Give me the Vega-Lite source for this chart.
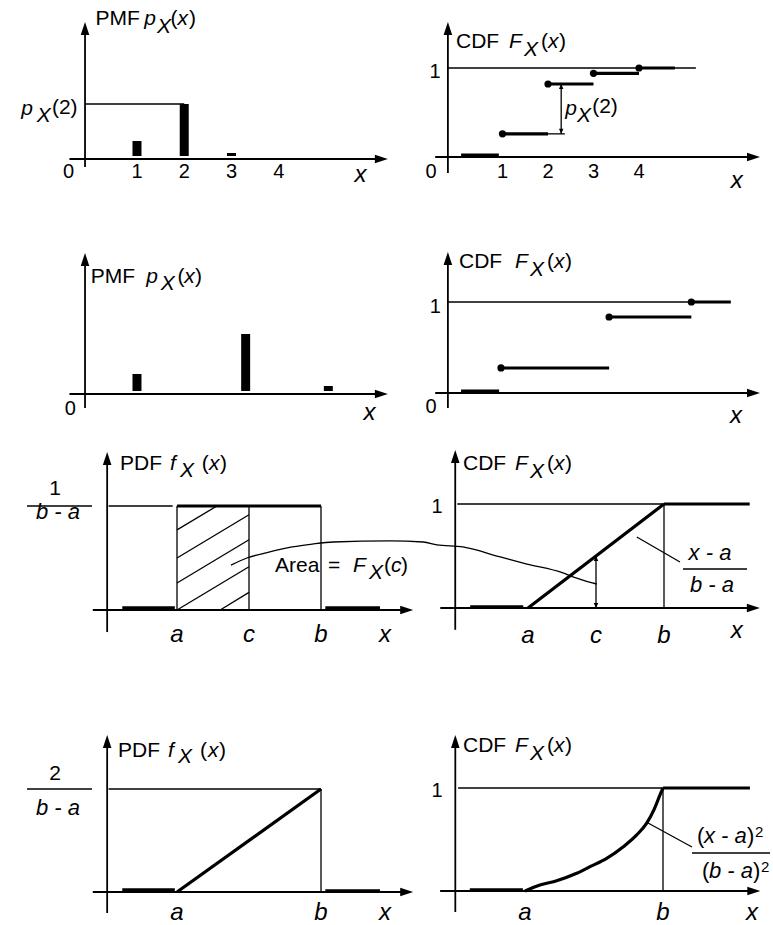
{
  "$schema": "https://vega.github.io/schema/vega-lite/v6.json",
  "padding": 0,
  "background": "white",
  "columns": 2,
  "spacing": 0,
  "align": "each",
  "bounds": "flush",
  "config": {"view": {"stroke": null}, "font": "Liberation Sans", "text": {"color": "black", "font": "Liberation Sans", "baseline": "alphabetic"}},
  "datasets": {
    "pmf1": [
      {"k": "axis", "x": -0.1, "y": -0.08, "x2": -0.1, "y2": 1.3},
      {"k": "axis", "x": -0.43, "y": 0, "x2": 6.2, "y2": 0},
      {"k": "up", "x": -0.1, "y": 1.37},
      {"k": "right", "x": 6.31, "y": 0},
      {"k": "bar", "x": 1, "y": 0.18},
      {"k": "bar", "x": 2, "y": 0.55},
      {"k": "bar", "x": 3, "y": 0.06},
      {"k": "guide", "x": -0.1, "y": 0.55, "x2": 2, "y2": 0.55},
      {"k": "text", "role": "tick", "t": "0", "x": -0.45, "y": -0.19},
      {"k": "text", "role": "tick", "t": "1", "x": 1, "y": -0.19},
      {"k": "text", "role": "tick", "t": "2", "x": 2, "y": -0.19},
      {"k": "text", "role": "tick", "t": "3", "x": 3, "y": -0.19},
      {"k": "text", "role": "tick", "t": "4", "x": 4, "y": -0.19},
      {"k": "text", "role": "var", "t": "x", "x": 5.73, "y": -0.23},
      {"k": "text", "role": "sym", "t": "p", "x": -1.45, "y": 0.44},
      {"k": "text", "role": "sym", "t": "X", "x": -1.12, "y": 0.37},
      {"k": "text", "role": "word", "t": "(2)", "x": -0.8, "y": 0.45},
      {"k": "text", "role": "word", "t": "PMF", "x": 0.12, "y": 1.34},
      {"k": "text", "role": "sym", "t": "p", "x": 1.155, "y": 1.34},
      {"k": "text", "role": "sym", "t": "X", "x": 1.423, "y": 1.26},
      {"k": "text", "role": "word", "t": "(", "x": 1.71, "y": 1.34},
      {"k": "text", "role": "sym", "t": "x", "x": 1.855, "y": 1.34},
      {"k": "text", "role": "word", "t": ")", "x": 2.1, "y": 1.34}
    ],
    "cdf1": [
      {"k": "axis", "x": -0.2, "y": -0.18, "x2": -0.2, "y2": 1.45},
      {"k": "axis", "x": -0.48, "y": 0, "x2": 6.55, "y2": 0},
      {"k": "up", "x": -0.2, "y": 1.517},
      {"k": "right", "x": 6.66, "y": 0},
      {"k": "guide", "x": -0.2, "y": 1, "x2": 5.25, "y2": 1},
      {"k": "graph", "x": 0.09, "y": 0.02, "x2": 0.92, "y2": 0.02},
      {"k": "graph", "x": 1, "y": 0.26, "x2": 2, "y2": 0.26},
      {"k": "graph", "x": 2, "y": 0.82, "x2": 3, "y2": 0.82},
      {"k": "graph", "x": 3, "y": 0.94, "x2": 4, "y2": 0.94},
      {"k": "graph", "x": 4, "y": 1, "x2": 4.79, "y2": 1},
      {"k": "dot", "x": 1, "y": 0.26},
      {"k": "dot", "x": 2, "y": 0.82},
      {"k": "dot", "x": 3, "y": 0.94},
      {"k": "dot", "x": 4, "y": 1},
      {"k": "guide", "x": 2, "y": 0.26, "x2": 2.37, "y2": 0.26},
      {"k": "guide", "x": 2.29, "y": 0.26, "x2": 2.29, "y2": 0.82},
      {"k": "hup", "x": 2.29, "y": 0.82},
      {"k": "hdown", "x": 2.29, "y": 0.26},
      {"k": "text", "role": "tick", "t": "0", "x": -0.57, "y": -0.236},
      {"k": "text", "role": "tick", "t": "1", "x": 1, "y": -0.236},
      {"k": "text", "role": "tick", "t": "2", "x": 2, "y": -0.236},
      {"k": "text", "role": "tick", "t": "3", "x": 3, "y": -0.236},
      {"k": "text", "role": "tick", "t": "4", "x": 4, "y": -0.236},
      {"k": "text", "role": "var", "t": "x", "x": 6.15, "y": -0.348},
      {"k": "text", "role": "tick", "t": "1", "x": -0.48, "y": 0.888},
      {"k": "text", "role": "sym", "t": "p", "x": 2.38, "y": 0.472},
      {"k": "text", "role": "sym", "t": "X", "x": 2.64, "y": 0.393},
      {"k": "text", "role": "word", "t": "(2)", "x": 2.97, "y": 0.494},
      {"k": "text", "role": "word", "t": "CDF", "x": -0.022, "y": 1.225},
      {"k": "text", "role": "sym", "t": "F", "x": 1.143, "y": 1.225},
      {"k": "text", "role": "sym", "t": "X", "x": 1.473, "y": 1.135},
      {"k": "text", "role": "word", "t": "(", "x": 1.846, "y": 1.225},
      {"k": "text", "role": "sym", "t": "x", "x": 2.0, "y": 1.225},
      {"k": "text", "role": "word", "t": ")", "x": 2.242, "y": 1.225}
    ],
    "pmf2": [
      {"k": "axis", "x": -0.1, "y": -0.14, "x2": -0.1, "y2": 1.35},
      {"k": "axis", "x": -0.43, "y": 0, "x2": 6.2, "y2": 0},
      {"k": "up", "x": -0.1, "y": 1.41},
      {"k": "right", "x": 6.31, "y": 0},
      {"k": "bar", "x": 1, "y": 0.2},
      {"k": "bar", "x": 3.3, "y": 0.6},
      {"k": "bar", "x": 5.05, "y": 0.08},
      {"k": "text", "role": "tick", "t": "0", "x": -0.41, "y": -0.21},
      {"k": "text", "role": "var", "t": "x", "x": 5.92, "y": -0.26},
      {"k": "text", "role": "word", "t": "PMF", "x": 0.02, "y": 1.11},
      {"k": "text", "role": "sym", "t": "p", "x": 1.196, "y": 1.11},
      {"k": "text", "role": "sym", "t": "X", "x": 1.505, "y": 1.04},
      {"k": "text", "role": "word", "t": "(", "x": 1.856, "y": 1.11},
      {"k": "text", "role": "sym", "t": "x", "x": 2.0, "y": 1.11},
      {"k": "text", "role": "word", "t": ")", "x": 2.227, "y": 1.11}
    ],
    "cdf2": [
      {"k": "axis", "x": -0.13, "y": -0.165, "x2": -0.13, "y2": 1.48},
      {"k": "axis", "x": -0.4, "y": 0, "x2": 6.4, "y2": 0},
      {"k": "up", "x": -0.13, "y": 1.549},
      {"k": "right", "x": 6.51, "y": 0},
      {"k": "guide", "x": -0.13, "y": 1, "x2": 5.05, "y2": 1},
      {"k": "graph", "x": 0.15, "y": 0.022, "x2": 0.96, "y2": 0.022},
      {"k": "graph", "x": 1, "y": 0.275, "x2": 3.3, "y2": 0.275},
      {"k": "graph", "x": 3.3, "y": 0.835, "x2": 5.05, "y2": 0.835},
      {"k": "graph", "x": 5.05, "y": 1, "x2": 5.89, "y2": 1},
      {"k": "dot", "x": 1, "y": 0.275},
      {"k": "dot", "x": 3.3, "y": 0.835},
      {"k": "dot", "x": 5.05, "y": 1},
      {"k": "text", "role": "tick", "t": "0", "x": -0.49, "y": -0.22},
      {"k": "text", "role": "tick", "t": "1", "x": -0.4, "y": 0.879},
      {"k": "text", "role": "var", "t": "x", "x": 6.0, "y": -0.33},
      {"k": "text", "role": "word", "t": "CDF", "x": 0.106, "y": 1.374},
      {"k": "text", "role": "sym", "t": "F", "x": 1.298, "y": 1.374},
      {"k": "text", "role": "sym", "t": "X", "x": 1.617, "y": 1.286},
      {"k": "text", "role": "word", "t": "(", "x": 1.979, "y": 1.374},
      {"k": "text", "role": "sym", "t": "x", "x": 2.128, "y": 1.374},
      {"k": "text", "role": "word", "t": ")", "x": 2.362, "y": 1.374}
    ],
    "pdf1": [
      {"k": "axis", "x": 0.03, "y": -0.106, "x2": 0.03, "y2": 0.72},
      {"k": "axis", "x": -0.17, "y": 0, "x2": 4.2, "y2": 0},
      {"k": "up", "x": 0.03, "y": 0.76},
      {"k": "right", "x": 4.28, "y": 0},
      {"k": "guide", "x": 0.05, "y": 0.5, "x2": 0.94, "y2": 0.5},
      {"k": "graph", "x": 1, "y": 0.5, "x2": 3, "y2": 0.5},
      {"k": "graph", "x": 0.24, "y": 0.01, "x2": 0.97, "y2": 0.01},
      {"k": "graph", "x": 3.06, "y": 0.01, "x2": 3.82, "y2": 0.01},
      {"k": "guide", "x": 1, "y": 0, "x2": 1, "y2": 0.5},
      {"k": "guide", "x": 2, "y": 0, "x2": 2, "y2": 0.5},
      {"k": "guide", "x": 3, "y": 0, "x2": 3, "y2": 0.5},
      {"k": "guide", "x": 1, "y": 0.385, "x2": 1.554, "y2": 0.5},
      {"k": "guide", "x": 1, "y": 0.25, "x2": 2, "y2": 0.458},
      {"k": "guide", "x": 1, "y": 0.13, "x2": 2, "y2": 0.338},
      {"k": "guide", "x": 1, "y": 0, "x2": 2, "y2": 0.208},
      {"k": "guide", "x": 1.6, "y": 0, "x2": 2, "y2": 0.085},
      {"k": "guide", "x": -1.083, "y": 0.5, "x2": -0.181, "y2": 0.5},
      {"k": "leader", "o": 0, "x": 1.75, "y": 0.216},
      {"k": "leader", "o": 1, "x": 1.97, "y": 0.25},
      {"k": "leader", "o": 2, "x": 2.25, "y": 0.276},
      {"k": "leader", "o": 3, "x": 2.6, "y": 0.303},
      {"k": "leader", "o": 4, "x": 2.88, "y": 0.317},
      {"k": "leader", "o": 5, "x": 3.17, "y": 0.327},
      {"k": "leader", "o": 6, "x": 3.96, "y": 0.332},
      {"k": "leader", "o": 7, "x": 4.42, "y": 0.327},
      {"k": "leader", "o": 8, "x": 4.61, "y": 0.313},
      {"k": "leader", "o": 9, "x": 4.97, "y": 0.303},
      {"k": "leader", "o": 10, "x": 5.49, "y": 0.255},
      {"k": "leader", "o": 11, "x": 5.86, "y": 0.221},
      {"k": "leader", "o": 12, "x": 6.36, "y": 0.178},
      {"k": "leader", "o": 13, "x": 6.5, "y": 0.159},
      {"k": "leader", "o": 14, "x": 6.7, "y": 0.137},
      {"k": "leader", "o": 15, "x": 6.83, "y": 0.125},
      {"k": "text", "role": "num", "t": "1", "x": -0.694, "y": 0.552},
      {"k": "text", "role": "frac", "t": "b - a", "x": -0.653, "y": 0.437},
      {"k": "text", "role": "var", "t": "a", "x": 1, "y": -0.154},
      {"k": "text", "role": "var", "t": "c", "x": 2, "y": -0.154},
      {"k": "text", "role": "var", "t": "b", "x": 3, "y": -0.154},
      {"k": "text", "role": "var", "t": "x", "x": 3.89, "y": -0.154},
      {"k": "text", "role": "word", "t": "Area", "x": 2.361, "y": 0.183},
      {"k": "text", "role": "word", "t": "=", "x": 3.097, "y": 0.183},
      {"k": "text", "role": "sym", "t": "F", "x": 3.444, "y": 0.183},
      {"k": "text", "role": "sym", "t": "X", "x": 3.667, "y": 0.149},
      {"k": "text", "role": "word", "t": "(", "x": 3.875, "y": 0.183},
      {"k": "text", "role": "sym", "t": "c", "x": 3.972, "y": 0.183},
      {"k": "text", "role": "word", "t": ")", "x": 4.111, "y": 0.183},
      {"k": "text", "role": "word", "t": "PDF", "x": 0.208, "y": 0.673},
      {"k": "text", "role": "sym", "t": "f", "x": 0.903, "y": 0.673},
      {"k": "text", "role": "sym", "t": "X", "x": 1.04, "y": 0.639},
      {"k": "text", "role": "word", "t": "(", "x": 1.343, "y": 0.673},
      {"k": "text", "role": "sym", "t": "x", "x": 1.444, "y": 0.673},
      {"k": "text", "role": "word", "t": ")", "x": 1.597, "y": 0.673}
    ],
    "cdfu": [
      {"k": "axis", "x": -0.07, "y": -0.21, "x2": -0.07, "y2": 1.45},
      {"k": "axis", "x": -0.29, "y": 0, "x2": 4.33, "y2": 0},
      {"k": "up", "x": -0.07, "y": 1.519},
      {"k": "right", "x": 4.41, "y": 0},
      {"k": "guide", "x": -0.04, "y": 1, "x2": 3, "y2": 1},
      {"k": "graph", "x": 3, "y": 1, "x2": 4.26, "y2": 1},
      {"k": "graph", "x": 0.15, "y": 0.01, "x2": 0.93, "y2": 0.01},
      {"k": "graph", "x": 1, "y": 0, "x2": 3, "y2": 1},
      {"k": "guide", "x": 3, "y": 0, "x2": 3, "y2": 1},
      {"k": "guide", "x": 2, "y": 0, "x2": 2, "y2": 0.5},
      {"k": "hup", "x": 2, "y": 0.5},
      {"k": "hdown", "x": 2, "y": 0},
      {"k": "guide", "x": 2.6, "y": 0.683, "x2": 3.235, "y2": 0.442},
      {"k": "guide", "x": 3.279, "y": 0.375, "x2": 4.221, "y2": 0.375},
      {"k": "text", "role": "frac", "t": "x - a", "x": 3.676, "y": 0.462},
      {"k": "text", "role": "frac", "t": "b - a", "x": 3.706, "y": 0.157},
      {"k": "text", "role": "tick", "t": "1", "x": -0.338, "y": 0.913},
      {"k": "text", "role": "var", "t": "a", "x": 1, "y": -0.337},
      {"k": "text", "role": "var", "t": "c", "x": 2, "y": -0.337},
      {"k": "text", "role": "var", "t": "b", "x": 3, "y": -0.337},
      {"k": "text", "role": "var", "t": "x", "x": 4.07, "y": -0.288},
      {"k": "text", "role": "word", "t": "CDF", "x": 0.044, "y": 1.327},
      {"k": "text", "role": "sym", "t": "F", "x": 0.809, "y": 1.327},
      {"k": "text", "role": "sym", "t": "X", "x": 1.029, "y": 1.25},
      {"k": "text", "role": "word", "t": "(", "x": 1.279, "y": 1.327},
      {"k": "text", "role": "sym", "t": "x", "x": 1.382, "y": 1.327},
      {"k": "text", "role": "word", "t": ")", "x": 1.544, "y": 1.327}
    ],
    "pdf2": [
      {"k": "axis", "x": 0.03, "y": -0.204, "x2": 0.03, "y2": 1.46},
      {"k": "axis", "x": -0.17, "y": 0, "x2": 4.2, "y2": 0},
      {"k": "up", "x": 0.03, "y": 1.524},
      {"k": "right", "x": 4.28, "y": 0},
      {"k": "guide", "x": 0.05, "y": 1, "x2": 3, "y2": 1},
      {"k": "graph", "x": 1, "y": 0, "x2": 3, "y2": 1},
      {"k": "graph", "x": 0.24, "y": 0.02, "x2": 0.97, "y2": 0.02},
      {"k": "graph", "x": 3.06, "y": 0.01, "x2": 3.82, "y2": 0.01},
      {"k": "guide", "x": 3, "y": 0, "x2": 3, "y2": 1},
      {"k": "guide", "x": -1.083, "y": 1, "x2": -0.181, "y2": 1},
      {"k": "text", "role": "num", "t": "2", "x": -0.694, "y": 1.087},
      {"k": "text", "role": "frac", "t": "b - a", "x": -0.653, "y": 0.748},
      {"k": "text", "role": "var", "t": "a", "x": 1, "y": -0.272},
      {"k": "text", "role": "var", "t": "b", "x": 3, "y": -0.272},
      {"k": "text", "role": "var", "t": "x", "x": 3.89, "y": -0.272},
      {"k": "text", "role": "word", "t": "PDF", "x": 0.181, "y": 1.311},
      {"k": "text", "role": "sym", "t": "f", "x": 0.875, "y": 1.311},
      {"k": "text", "role": "sym", "t": "X", "x": 1.015, "y": 1.252},
      {"k": "text", "role": "word", "t": "(", "x": 1.319, "y": 1.311},
      {"k": "text", "role": "sym", "t": "x", "x": 1.431, "y": 1.311},
      {"k": "text", "role": "word", "t": ")", "x": 1.583, "y": 1.311}
    ],
    "cdft": [
      {"k": "axis", "x": -0.01, "y": -0.204, "x2": -0.01, "y2": 1.45},
      {"k": "axis", "x": -0.23, "y": 0, "x2": 4.32, "y2": 0},
      {"k": "up", "x": -0.01, "y": 1.515},
      {"k": "right", "x": 4.41, "y": 0},
      {"k": "guide", "x": 0.03, "y": 1, "x2": 3, "y2": 1},
      {"k": "graph", "x": 3, "y": 1, "x2": 4.26, "y2": 1},
      {"k": "graph", "x": 0.2, "y": 0.01, "x2": 0.97, "y2": 0.01},
      {"k": "curve", "o": 0, "x": 1.0, "y": 0.0},
      {"k": "curve", "o": 1, "x": 1.217, "y": 0.058},
      {"k": "curve", "o": 2, "x": 1.459, "y": 0.1},
      {"k": "curve", "o": 3, "x": 1.749, "y": 0.172},
      {"k": "curve", "o": 4, "x": 1.942, "y": 0.236},
      {"k": "curve", "o": 5, "x": 2.184, "y": 0.317},
      {"k": "curve", "o": 6, "x": 2.425, "y": 0.43},
      {"k": "curve", "o": 7, "x": 2.619, "y": 0.544},
      {"k": "curve", "o": 8, "x": 2.764, "y": 0.66},
      {"k": "curve", "o": 9, "x": 2.87, "y": 0.79},
      {"k": "curve", "o": 10, "x": 2.955, "y": 0.93},
      {"k": "curve", "o": 11, "x": 3.0, "y": 1.0},
      {"k": "guide", "x": 3, "y": 0, "x2": 3, "y2": 1},
      {"k": "guide", "x": 2.783, "y": 0.66, "x2": 3.42, "y2": 0.427},
      {"k": "guide", "x": 3.42, "y": 0.369, "x2": 4.551, "y2": 0.369},
      {"k": "text", "role": "fword", "t": "(", "x": 3.493, "y": 0.466},
      {"k": "text", "role": "fsym", "t": "x - a", "x": 3.594, "y": 0.466},
      {"k": "text", "role": "fword", "t": ")", "x": 4.217, "y": 0.466},
      {"k": "text", "role": "sup", "t": "2", "x": 4.333, "y": 0.524},
      {"k": "text", "role": "fword", "t": "(", "x": 3.565, "y": 0.126},
      {"k": "text", "role": "fsym", "t": "b - a", "x": 3.667, "y": 0.126},
      {"k": "text", "role": "fword", "t": ")", "x": 4.304, "y": 0.126},
      {"k": "text", "role": "sup", "t": "2", "x": 4.42, "y": 0.184},
      {"k": "text", "role": "tick", "t": "1", "x": -0.275, "y": 0.913},
      {"k": "text", "role": "var", "t": "a", "x": 1, "y": -0.282},
      {"k": "text", "role": "var", "t": "b", "x": 3, "y": -0.282},
      {"k": "text", "role": "var", "t": "x", "x": 4.29, "y": -0.282},
      {"k": "text", "role": "word", "t": "CDF", "x": 0.101, "y": 1.35},
      {"k": "text", "role": "sym", "t": "F", "x": 0.855, "y": 1.35},
      {"k": "text", "role": "sym", "t": "X", "x": 1.072, "y": 1.272},
      {"k": "text", "role": "word", "t": "(", "x": 1.319, "y": 1.35},
      {"k": "text", "role": "sym", "t": "x", "x": 1.42, "y": 1.35},
      {"k": "text", "role": "word", "t": ")", "x": 1.58, "y": 1.35}
    ]
  },
  "concat": [
    {
      "width": 386, "height": 205,
      "data": {"name": "pmf1"},
      "encoding": {
        "x": {"field": "x", "type": "quantitative", "scale": {"domain": [-1.7938, 6.1649], "nice": false, "zero": false}, "axis": null},
        "y": {"field": "y", "type": "quantitative", "scale": {"domain": [-0.46, 1.59], "nice": false, "zero": false}, "axis": null}
      },
      "layer": [
        {"transform": [{"filter": "datum.k === 'axis'"}], "mark": {"type": "rule", "strokeWidth": 1.8, "color": "black"}, "encoding": {"x2": {"field": "x2"}, "y2": {"field": "y2"}}},
        {"transform": [{"filter": "datum.k === 'guide'"}], "mark": {"type": "rule", "strokeWidth": 1.3, "color": "black"}, "encoding": {"x2": {"field": "x2"}, "y2": {"field": "y2"}}},
        {"transform": [{"filter": "datum.k === 'bar'"}], "mark": {"type": "bar", "width": 9, "color": "black"}, "encoding": {"y2": {"datum": 0.03}}},
        {"transform": [{"filter": "datum.k === 'up'"}], "mark": {"type": "point", "shape": "M0,0L-0.33,1L0.33,1Z", "size": 676, "filled": true, "opacity": 1, "color": "black", "strokeWidth": 0}},
        {"transform": [{"filter": "datum.k === 'right'"}], "mark": {"type": "point", "shape": "M0,0L-1,-0.33L-1,0.33Z", "size": 676, "filled": true, "opacity": 1, "color": "black", "strokeWidth": 0}},
        {"transform": [{"filter": "datum.role === 'word'"}], "mark": {"type": "text", "align": "left", "fontSize": 21}, "encoding": {"text": {"field": "t"}}},
        {"transform": [{"filter": "datum.role === 'sym'"}], "mark": {"type": "text", "align": "left", "fontSize": 21, "fontStyle": "italic"}, "encoding": {"text": {"field": "t"}}},
        {"transform": [{"filter": "datum.role === 'tick'"}], "mark": {"type": "text", "align": "center", "fontSize": 20}, "encoding": {"text": {"field": "t"}}},
        {"transform": [{"filter": "datum.role === 'var'"}], "mark": {"type": "text", "align": "center", "fontSize": 24, "fontStyle": "italic"}, "encoding": {"text": {"field": "t"}}}
      ]
    },
    {
      "width": 387, "height": 205,
      "data": {"name": "cdf1"},
      "encoding": {
        "x": {"field": "x", "type": "quantitative", "scale": {"domain": [-1.5604, 6.9451], "nice": false, "zero": false}, "axis": null},
        "y": {"field": "y", "type": "quantitative", "scale": {"domain": [-0.5393, 1.764], "nice": false, "zero": false}, "axis": null}
      },
      "layer": [
        {"transform": [{"filter": "datum.k === 'axis'"}], "mark": {"type": "rule", "strokeWidth": 1.8, "color": "black"}, "encoding": {"x2": {"field": "x2"}, "y2": {"field": "y2"}}},
        {"transform": [{"filter": "datum.k === 'guide'"}], "mark": {"type": "rule", "strokeWidth": 1.3, "color": "black"}, "encoding": {"x2": {"field": "x2"}, "y2": {"field": "y2"}}},
        {"transform": [{"filter": "datum.k === 'graph'"}], "mark": {"type": "rule", "strokeWidth": 3.2, "color": "black"}, "encoding": {"x2": {"field": "x2"}, "y2": {"field": "y2"}}},
        {"transform": [{"filter": "datum.k === 'dot'"}], "mark": {"type": "point", "shape": "circle", "size": 52, "filled": true, "opacity": 1, "color": "black"}},
        {"transform": [{"filter": "datum.k === 'up'"}], "mark": {"type": "point", "shape": "M0,0L-0.33,1L0.33,1Z", "size": 676, "filled": true, "opacity": 1, "color": "black", "strokeWidth": 0}},
        {"transform": [{"filter": "datum.k === 'right'"}], "mark": {"type": "point", "shape": "M0,0L-1,-0.33L-1,0.33Z", "size": 676, "filled": true, "opacity": 1, "color": "black", "strokeWidth": 0}},
        {"transform": [{"filter": "datum.k === 'hup'"}], "mark": {"type": "point", "shape": "M0,0L-0.45,1L0.45,1Z", "size": 100, "filled": true, "opacity": 1, "color": "black", "strokeWidth": 0}},
        {"transform": [{"filter": "datum.k === 'hdown'"}], "mark": {"type": "point", "shape": "M0,0L-0.45,-1L0.45,-1Z", "size": 100, "filled": true, "opacity": 1, "color": "black", "strokeWidth": 0}},
        {"transform": [{"filter": "datum.role === 'word'"}], "mark": {"type": "text", "align": "left", "fontSize": 21}, "encoding": {"text": {"field": "t"}}},
        {"transform": [{"filter": "datum.role === 'sym'"}], "mark": {"type": "text", "align": "left", "fontSize": 21, "fontStyle": "italic"}, "encoding": {"text": {"field": "t"}}},
        {"transform": [{"filter": "datum.role === 'tick'"}], "mark": {"type": "text", "align": "center", "fontSize": 20}, "encoding": {"text": {"field": "t"}}},
        {"transform": [{"filter": "datum.role === 'var'"}], "mark": {"type": "text", "align": "center", "fontSize": 24, "fontStyle": "italic"}, "encoding": {"text": {"field": "t"}}}
      ]
    },
    {
      "width": 386, "height": 220,
      "data": {"name": "pmf2"},
      "encoding": {
        "x": {"field": "x", "type": "quantitative", "scale": {"domain": [-1.7938, 6.1649], "nice": false, "zero": false}, "axis": null},
        "y": {"field": "y", "type": "quantitative", "scale": {"domain": [-0.31, 1.89], "nice": false, "zero": false}, "axis": null}
      },
      "layer": [
        {"transform": [{"filter": "datum.k === 'axis'"}], "mark": {"type": "rule", "strokeWidth": 1.8, "color": "black"}, "encoding": {"x2": {"field": "x2"}, "y2": {"field": "y2"}}},
        {"transform": [{"filter": "datum.k === 'bar'"}], "mark": {"type": "bar", "width": 9, "color": "black"}, "encoding": {"y2": {"datum": 0.03}}},
        {"transform": [{"filter": "datum.k === 'up'"}], "mark": {"type": "point", "shape": "M0,0L-0.33,1L0.33,1Z", "size": 676, "filled": true, "opacity": 1, "color": "black", "strokeWidth": 0}},
        {"transform": [{"filter": "datum.k === 'right'"}], "mark": {"type": "point", "shape": "M0,0L-1,-0.33L-1,0.33Z", "size": 676, "filled": true, "opacity": 1, "color": "black", "strokeWidth": 0}},
        {"transform": [{"filter": "datum.role === 'word'"}], "mark": {"type": "text", "align": "left", "fontSize": 21}, "encoding": {"text": {"field": "t"}}},
        {"transform": [{"filter": "datum.role === 'sym'"}], "mark": {"type": "text", "align": "left", "fontSize": 21, "fontStyle": "italic"}, "encoding": {"text": {"field": "t"}}},
        {"transform": [{"filter": "datum.role === 'tick'"}], "mark": {"type": "text", "align": "center", "fontSize": 20}, "encoding": {"text": {"field": "t"}}},
        {"transform": [{"filter": "datum.role === 'var'"}], "mark": {"type": "text", "align": "center", "fontSize": 24, "fontStyle": "italic"}, "encoding": {"text": {"field": "t"}}}
      ]
    },
    {
      "width": 387, "height": 220,
      "data": {"name": "cdf2"},
      "encoding": {
        "x": {"field": "x", "type": "quantitative", "scale": {"domain": [-1.4468, 6.7872], "nice": false, "zero": false}, "axis": null},
        "y": {"field": "y", "type": "quantitative", "scale": {"domain": [-0.3516, 2.0659], "nice": false, "zero": false}, "axis": null}
      },
      "layer": [
        {"transform": [{"filter": "datum.k === 'axis'"}], "mark": {"type": "rule", "strokeWidth": 1.8, "color": "black"}, "encoding": {"x2": {"field": "x2"}, "y2": {"field": "y2"}}},
        {"transform": [{"filter": "datum.k === 'guide'"}], "mark": {"type": "rule", "strokeWidth": 1.3, "color": "black"}, "encoding": {"x2": {"field": "x2"}, "y2": {"field": "y2"}}},
        {"transform": [{"filter": "datum.k === 'graph'"}], "mark": {"type": "rule", "strokeWidth": 3.2, "color": "black"}, "encoding": {"x2": {"field": "x2"}, "y2": {"field": "y2"}}},
        {"transform": [{"filter": "datum.k === 'dot'"}], "mark": {"type": "point", "shape": "circle", "size": 52, "filled": true, "opacity": 1, "color": "black"}},
        {"transform": [{"filter": "datum.k === 'up'"}], "mark": {"type": "point", "shape": "M0,0L-0.33,1L0.33,1Z", "size": 676, "filled": true, "opacity": 1, "color": "black", "strokeWidth": 0}},
        {"transform": [{"filter": "datum.k === 'right'"}], "mark": {"type": "point", "shape": "M0,0L-1,-0.33L-1,0.33Z", "size": 676, "filled": true, "opacity": 1, "color": "black", "strokeWidth": 0}},
        {"transform": [{"filter": "datum.role === 'word'"}], "mark": {"type": "text", "align": "left", "fontSize": 21}, "encoding": {"text": {"field": "t"}}},
        {"transform": [{"filter": "datum.role === 'sym'"}], "mark": {"type": "text", "align": "left", "fontSize": 21, "fontStyle": "italic"}, "encoding": {"text": {"field": "t"}}},
        {"transform": [{"filter": "datum.role === 'tick'"}], "mark": {"type": "text", "align": "center", "fontSize": 20}, "encoding": {"text": {"field": "t"}}},
        {"transform": [{"filter": "datum.role === 'var'"}], "mark": {"type": "text", "align": "center", "fontSize": 24, "fontStyle": "italic"}, "encoding": {"text": {"field": "t"}}}
      ]
    },
    {
      "width": 386, "height": 255,
      "data": {"name": "pdf1"},
      "encoding": {
        "x": {"field": "x", "type": "quantitative", "scale": {"domain": [-1.4583, 3.9028], "nice": false, "zero": false}, "axis": null},
        "y": {"field": "y", "type": "quantitative", "scale": {"domain": [-0.3365, 0.8894], "nice": false, "zero": false}, "axis": null}
      },
      "layer": [
        {"transform": [{"filter": "datum.k === 'axis'"}], "mark": {"type": "rule", "strokeWidth": 1.8, "color": "black"}, "encoding": {"x2": {"field": "x2"}, "y2": {"field": "y2"}}},
        {"transform": [{"filter": "datum.k === 'guide'"}], "mark": {"type": "rule", "strokeWidth": 1.3, "color": "black"}, "encoding": {"x2": {"field": "x2"}, "y2": {"field": "y2"}}},
        {"transform": [{"filter": "datum.k === 'graph'"}], "mark": {"type": "rule", "strokeWidth": 3.2, "color": "black"}, "encoding": {"x2": {"field": "x2"}, "y2": {"field": "y2"}}},
        {"transform": [{"filter": "datum.k === 'leader'"}], "mark": {"type": "line", "strokeWidth": 1.3, "color": "black", "interpolate": "monotone"}, "encoding": {"order": {"field": "o", "type": "quantitative"}}},
        {"transform": [{"filter": "datum.k === 'up'"}], "mark": {"type": "point", "shape": "M0,0L-0.33,1L0.33,1Z", "size": 676, "filled": true, "opacity": 1, "color": "black", "strokeWidth": 0}},
        {"transform": [{"filter": "datum.k === 'right'"}], "mark": {"type": "point", "shape": "M0,0L-1,-0.33L-1,0.33Z", "size": 676, "filled": true, "opacity": 1, "color": "black", "strokeWidth": 0}},
        {"transform": [{"filter": "datum.role === 'word'"}], "mark": {"type": "text", "align": "left", "fontSize": 21}, "encoding": {"text": {"field": "t"}}},
        {"transform": [{"filter": "datum.role === 'sym'"}], "mark": {"type": "text", "align": "left", "fontSize": 21, "fontStyle": "italic"}, "encoding": {"text": {"field": "t"}}},
        {"transform": [{"filter": "datum.role === 'num'"}], "mark": {"type": "text", "align": "center", "fontSize": 21}, "encoding": {"text": {"field": "t"}}},
        {"transform": [{"filter": "datum.role === 'frac'"}], "mark": {"type": "text", "align": "center", "fontSize": 22, "fontStyle": "italic"}, "encoding": {"text": {"field": "t"}}},
        {"transform": [{"filter": "datum.role === 'var'"}], "mark": {"type": "text", "align": "center", "fontSize": 24, "fontStyle": "italic"}, "encoding": {"text": {"field": "t"}}}
      ]
    },
    {
      "width": 387, "height": 255,
      "data": {"name": "cdfu"},
      "encoding": {
        "x": {"field": "x", "type": "quantitative", "scale": {"domain": [-1.0882, 4.6029], "nice": false, "zero": false}, "axis": null},
        "y": {"field": "y", "type": "quantitative", "scale": {"domain": [-0.6923, 1.7596], "nice": false, "zero": false}, "axis": null}
      },
      "layer": [
        {"transform": [{"filter": "datum.k === 'axis'"}], "mark": {"type": "rule", "strokeWidth": 1.8, "color": "black"}, "encoding": {"x2": {"field": "x2"}, "y2": {"field": "y2"}}},
        {"transform": [{"filter": "datum.k === 'guide'"}], "mark": {"type": "rule", "strokeWidth": 1.3, "color": "black"}, "encoding": {"x2": {"field": "x2"}, "y2": {"field": "y2"}}},
        {"transform": [{"filter": "datum.k === 'graph'"}], "mark": {"type": "rule", "strokeWidth": 3.2, "color": "black"}, "encoding": {"x2": {"field": "x2"}, "y2": {"field": "y2"}}},
        {"transform": [{"filter": "datum.k === 'up'"}], "mark": {"type": "point", "shape": "M0,0L-0.33,1L0.33,1Z", "size": 676, "filled": true, "opacity": 1, "color": "black", "strokeWidth": 0}},
        {"transform": [{"filter": "datum.k === 'right'"}], "mark": {"type": "point", "shape": "M0,0L-1,-0.33L-1,0.33Z", "size": 676, "filled": true, "opacity": 1, "color": "black", "strokeWidth": 0}},
        {"transform": [{"filter": "datum.k === 'hup'"}], "mark": {"type": "point", "shape": "M0,0L-0.45,1L0.45,1Z", "size": 100, "filled": true, "opacity": 1, "color": "black", "strokeWidth": 0}},
        {"transform": [{"filter": "datum.k === 'hdown'"}], "mark": {"type": "point", "shape": "M0,0L-0.45,-1L0.45,-1Z", "size": 100, "filled": true, "opacity": 1, "color": "black", "strokeWidth": 0}},
        {"transform": [{"filter": "datum.role === 'word'"}], "mark": {"type": "text", "align": "left", "fontSize": 21}, "encoding": {"text": {"field": "t"}}},
        {"transform": [{"filter": "datum.role === 'sym'"}], "mark": {"type": "text", "align": "left", "fontSize": 21, "fontStyle": "italic"}, "encoding": {"text": {"field": "t"}}},
        {"transform": [{"filter": "datum.role === 'tick'"}], "mark": {"type": "text", "align": "center", "fontSize": 20}, "encoding": {"text": {"field": "t"}}},
        {"transform": [{"filter": "datum.role === 'frac'"}], "mark": {"type": "text", "align": "center", "fontSize": 22, "fontStyle": "italic"}, "encoding": {"text": {"field": "t"}}},
        {"transform": [{"filter": "datum.role === 'var'"}], "mark": {"type": "text", "align": "center", "fontSize": 24, "fontStyle": "italic"}, "encoding": {"text": {"field": "t"}}}
      ]
    },
    {
      "width": 386, "height": 245,
      "data": {"name": "pdf2"},
      "encoding": {
        "x": {"field": "x", "type": "quantitative", "scale": {"domain": [-1.4583, 3.9028], "nice": false, "zero": false}, "axis": null},
        "y": {"field": "y", "type": "quantitative", "scale": {"domain": [-0.3204, 2.0583], "nice": false, "zero": false}, "axis": null}
      },
      "layer": [
        {"transform": [{"filter": "datum.k === 'axis'"}], "mark": {"type": "rule", "strokeWidth": 1.8, "color": "black"}, "encoding": {"x2": {"field": "x2"}, "y2": {"field": "y2"}}},
        {"transform": [{"filter": "datum.k === 'guide'"}], "mark": {"type": "rule", "strokeWidth": 1.3, "color": "black"}, "encoding": {"x2": {"field": "x2"}, "y2": {"field": "y2"}}},
        {"transform": [{"filter": "datum.k === 'graph'"}], "mark": {"type": "rule", "strokeWidth": 3.2, "color": "black"}, "encoding": {"x2": {"field": "x2"}, "y2": {"field": "y2"}}},
        {"transform": [{"filter": "datum.k === 'up'"}], "mark": {"type": "point", "shape": "M0,0L-0.33,1L0.33,1Z", "size": 676, "filled": true, "opacity": 1, "color": "black", "strokeWidth": 0}},
        {"transform": [{"filter": "datum.k === 'right'"}], "mark": {"type": "point", "shape": "M0,0L-1,-0.33L-1,0.33Z", "size": 676, "filled": true, "opacity": 1, "color": "black", "strokeWidth": 0}},
        {"transform": [{"filter": "datum.role === 'word'"}], "mark": {"type": "text", "align": "left", "fontSize": 21}, "encoding": {"text": {"field": "t"}}},
        {"transform": [{"filter": "datum.role === 'sym'"}], "mark": {"type": "text", "align": "left", "fontSize": 21, "fontStyle": "italic"}, "encoding": {"text": {"field": "t"}}},
        {"transform": [{"filter": "datum.role === 'num'"}], "mark": {"type": "text", "align": "center", "fontSize": 21}, "encoding": {"text": {"field": "t"}}},
        {"transform": [{"filter": "datum.role === 'frac'"}], "mark": {"type": "text", "align": "center", "fontSize": 22, "fontStyle": "italic"}, "encoding": {"text": {"field": "t"}}},
        {"transform": [{"filter": "datum.role === 'var'"}], "mark": {"type": "text", "align": "center", "fontSize": 24, "fontStyle": "italic"}, "encoding": {"text": {"field": "t"}}}
      ]
    },
    {
      "width": 387, "height": 245,
      "data": {"name": "cdft"},
      "encoding": {
        "x": {"field": "x", "type": "quantitative", "scale": {"domain": [-1.0145, 4.5942], "nice": false, "zero": false}, "axis": null},
        "y": {"field": "y", "type": "quantitative", "scale": {"domain": [-0.3301, 2.0485], "nice": false, "zero": false}, "axis": null}
      },
      "layer": [
        {"transform": [{"filter": "datum.k === 'axis'"}], "mark": {"type": "rule", "strokeWidth": 1.8, "color": "black"}, "encoding": {"x2": {"field": "x2"}, "y2": {"field": "y2"}}},
        {"transform": [{"filter": "datum.k === 'guide'"}], "mark": {"type": "rule", "strokeWidth": 1.3, "color": "black"}, "encoding": {"x2": {"field": "x2"}, "y2": {"field": "y2"}}},
        {"transform": [{"filter": "datum.k === 'graph'"}], "mark": {"type": "rule", "strokeWidth": 3.2, "color": "black"}, "encoding": {"x2": {"field": "x2"}, "y2": {"field": "y2"}}},
        {"transform": [{"filter": "datum.k === 'curve'"}], "mark": {"type": "line", "strokeWidth": 3.2, "color": "black", "strokeJoin": "round", "interpolate": "monotone"}, "encoding": {"order": {"field": "o", "type": "quantitative"}}},
        {"transform": [{"filter": "datum.k === 'up'"}], "mark": {"type": "point", "shape": "M0,0L-0.33,1L0.33,1Z", "size": 676, "filled": true, "opacity": 1, "color": "black", "strokeWidth": 0}},
        {"transform": [{"filter": "datum.k === 'right'"}], "mark": {"type": "point", "shape": "M0,0L-1,-0.33L-1,0.33Z", "size": 676, "filled": true, "opacity": 1, "color": "black", "strokeWidth": 0}},
        {"transform": [{"filter": "datum.role === 'word'"}], "mark": {"type": "text", "align": "left", "fontSize": 21}, "encoding": {"text": {"field": "t"}}},
        {"transform": [{"filter": "datum.role === 'sym'"}], "mark": {"type": "text", "align": "left", "fontSize": 21, "fontStyle": "italic"}, "encoding": {"text": {"field": "t"}}},
        {"transform": [{"filter": "datum.role === 'tick'"}], "mark": {"type": "text", "align": "center", "fontSize": 20}, "encoding": {"text": {"field": "t"}}},
        {"transform": [{"filter": "datum.role === 'var'"}], "mark": {"type": "text", "align": "center", "fontSize": 24, "fontStyle": "italic"}, "encoding": {"text": {"field": "t"}}},
        {"transform": [{"filter": "datum.role === 'fword'"}], "mark": {"type": "text", "align": "left", "fontSize": 22}, "encoding": {"text": {"field": "t"}}},
        {"transform": [{"filter": "datum.role === 'fsym'"}], "mark": {"type": "text", "align": "left", "fontSize": 22, "fontStyle": "italic"}, "encoding": {"text": {"field": "t"}}},
        {"transform": [{"filter": "datum.role === 'sup'"}], "mark": {"type": "text", "align": "left", "fontSize": 15}, "encoding": {"text": {"field": "t"}}}
      ]
    }
  ]
}
